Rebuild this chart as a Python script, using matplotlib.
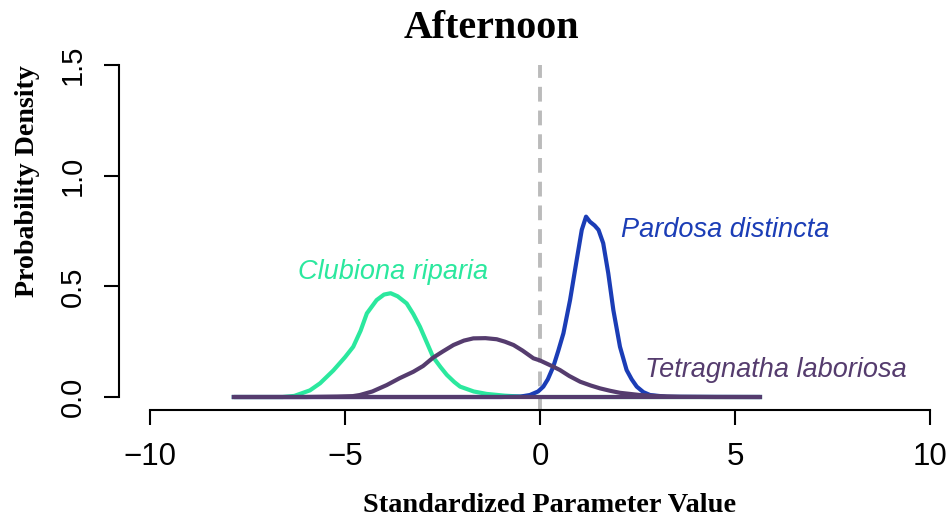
import matplotlib
matplotlib.use("Agg")
import matplotlib.pyplot as plt

# ---------------- data ----------------
clubiona_x = [-7.85, -6.6, -6.3, -5.9, -5.64, -5.3, -5.0, -4.79, -4.6, -4.44, -4.19, -4.0,
              -3.83, -3.65, -3.42, -3.25, -3.08, -2.9, -2.74, -2.55, -2.39, -2.2, -2.05,
              -1.7, -1.37, -0.9, -0.51, 0.0, 5.64]
clubiona_y = [0.0, 0.0, 0.005, 0.03, 0.062, 0.12, 0.18, 0.227, 0.30, 0.378, 0.438, 0.463,
              0.469, 0.455, 0.423, 0.375, 0.318, 0.245, 0.18, 0.135, 0.10, 0.068, 0.047,
              0.025, 0.014, 0.006, 0.002, 0.0, 0.0]

tetra_x = [-7.85, -6.0, -5.2, -4.8, -4.62, -4.3, -3.93, -3.6, -3.25, -3.0, -2.74, -2.5,
           -2.22, -1.95, -1.71, -1.4, -1.11, -0.9, -0.68, -0.45, -0.17, 0.0, 0.34, 0.51,
           0.75, 1.03, 1.3, 1.54, 1.8, 2.05, 2.56, 3.0, 3.6, 4.5, 5.64]
tetra_y = [0.0, 0.0, 0.002, 0.004, 0.009, 0.025, 0.054, 0.085, 0.114, 0.14, 0.178, 0.205,
           0.235, 0.255, 0.265, 0.266, 0.261, 0.25, 0.235, 0.21, 0.175, 0.165, 0.137, 0.122,
           0.095, 0.069, 0.052, 0.039, 0.028, 0.019, 0.009, 0.004, 0.001, 0.0, 0.0]

pardosa_x = [-7.85, -1.0, -0.5, -0.26, -0.05, 0.085, 0.2, 0.34, 0.47, 0.6, 0.77, 0.94,
             1.07, 1.18, 1.28, 1.4, 1.5, 1.62, 1.75, 1.88, 2.05, 2.22, 2.35, 2.48, 2.65,
             2.82, 3.25, 5.64]
pardosa_y = [0.0, 0.0, 0.002, 0.009, 0.025, 0.047, 0.08, 0.137, 0.21, 0.288, 0.438, 0.619,
             0.755, 0.815, 0.792, 0.775, 0.755, 0.695, 0.559, 0.393, 0.227, 0.122, 0.08,
             0.047, 0.022, 0.009, 0.001, 0.0]

species = ["Clubiona riparia", "Pardosa distincta", "Tetragnatha laboriosa"]
x_ticks = [-10, -5, 0, 5, 10]
x_tick_labels = ["\u221210", "\u22125", "0", "5", "10"]
y_ticks = [0.0, 0.5, 1.0, 1.5]
y_tick_labels = ["0.0", "0.5", "1.0", "1.5"]

green = "#2BE89E"
blue = "#1B3DB6"
purple = "#553C6E"

fig = plt.figure(figsize=(9.5, 5.21), dpi=100)
ax = fig.add_axes([0.1251, 0.2125, 0.8867, 0.6881])
ax.set_xlim(-10.8, 10.8)
ax.set_ylim(-0.06, 1.56)
ax.patch.set_alpha(0)

# reference line
ax.vlines(0, -0.06, 1.5, colors="#BBBBBB", linewidth=2.8, linestyles=(0, (3.8, 2.3)), zorder=1)

lw = 3.0
ax.plot(clubiona_x, clubiona_y, color=green, lw=lw, solid_joinstyle="round", zorder=2)
ax.plot(pardosa_x, pardosa_y, color=blue, lw=lw, solid_joinstyle="round", zorder=3)
ax.hlines(0, min(tetra_x), max(tetra_x), color=purple, lw=lw, zorder=4)
ax.plot(tetra_x, tetra_y, color=purple, lw=lw, solid_joinstyle="round", zorder=4)

# axes in R style
for s in ["top", "right"]:
    ax.spines[s].set_visible(False)
ax.spines["bottom"].set_bounds(-10, 10)
ax.spines["left"].set_bounds(0, 1.5)
for s in ["bottom", "left"]:
    ax.spines[s].set_linewidth(1.5)
ax.set_xticks(x_ticks)
ax.set_xticklabels(x_tick_labels)
ax.set_yticks(y_ticks)
ax.set_yticklabels(y_tick_labels, rotation=90, va="center")
ax.tick_params(axis="both", length=10.8, width=1.5, direction="out")
ax.tick_params(axis="x", pad=12, labelsize=22.5)
ax.tick_params(axis="y", pad=12, labelsize=21)
for lab in ax.get_xticklabels() + ax.get_yticklabels():
    lab.set_family("Liberation Sans")

# curve labels
lab_kw = dict(fontsize=19.5, style="italic", family="Liberation Sans", ha="left", va="center")
ax.text(-6.2, 0.565, species[0], color=green, **lab_kw)
ax.text(2.07, 0.755, species[1], color=blue, **lab_kw)
ax.text(2.7, 0.12, species[2], color=purple, **lab_kw)

# titles
fig.text(491 / 950, 1 - 28 / 521, "Afternoon", ha="center", va="center",
         family="Liberation Serif", weight="bold", fontsize=28.8)
fig.text(550 / 950, 1 - 506 / 521, "Standardized Parameter Value", ha="center", va="center",
         family="Liberation Serif", weight="bold", fontsize=20.4)
fig.text(28 / 950, 1 - 181 / 521, "Probability Density", ha="center", va="center", rotation=90,
         family="Liberation Serif", weight="bold", fontsize=20.2)

fig.savefig("out.png", dpi=100)
